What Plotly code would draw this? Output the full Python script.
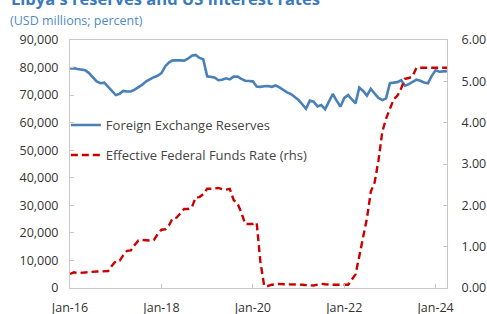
import pandas as pd
import plotly.graph_objects as go

# ---- data ----
months = pd.date_range("2016-01-01", periods=100, freq="MS")

fx_reserves = [
    79700, 79800, 79500, 79200, 79000, 78000, 76500, 75000, 74300, 74500, 73000, 71500,
    70000, 70500, 71500, 71300, 71300, 72000, 72800, 73800, 75000, 75800, 76500, 77000,
    78000, 80500, 81800, 82600, 82700, 82600, 82500, 83200, 84300, 84600, 83500, 83000,
    76800, 76600, 76400, 75400, 75600, 76100, 75700, 76700, 76700, 75900, 75200, 75100,
    75000, 73100, 73000, 73200, 73300, 73000, 73500, 72800, 71800, 71000, 70400, 69400,
    68200, 66600, 65000, 68000, 67600, 65900, 66400, 64900, 67600, 70400, 68000, 65800,
    69000, 70000, 68500, 67000, 72700, 71500, 69800, 72300, 70500, 69000, 68200, 68800,
    74300, 74600, 74700, 75400, 73400, 74000, 74800, 75600, 75200, 74600, 74300, 77000,
    79000, 78500, 78600, 78700,
]

fed_funds = [
    0.34, 0.38, 0.36, 0.37, 0.37, 0.38, 0.39, 0.40, 0.40, 0.40, 0.41, 0.54,
    0.65, 0.66, 0.79, 0.90, 0.91, 1.04, 1.15, 1.16, 1.15, 1.15, 1.16, 1.30,
    1.41, 1.42, 1.51, 1.69, 1.70, 1.82, 1.91, 1.91, 1.95, 2.19, 2.20, 2.27,
    2.40, 2.40, 2.41, 2.42, 2.39, 2.38, 2.40, 2.13, 2.04, 1.83, 1.55, 1.55,
    1.55, 1.58, 0.65, 0.05, 0.05, 0.08, 0.09, 0.10, 0.09, 0.09, 0.09, 0.09,
    0.09, 0.08, 0.07, 0.07, 0.06, 0.08, 0.10, 0.09, 0.08, 0.08, 0.08, 0.08,
    0.08, 0.08, 0.20, 0.33, 0.77, 1.21, 1.68, 2.33, 2.56, 3.08, 3.78, 4.10,
    4.33, 4.57, 4.65, 4.83, 5.06, 5.08, 5.12, 5.33, 5.33, 5.33, 5.33, 5.33,
    5.33, 5.33, 5.33, 5.33,
]

x_tick_vals = ["2016-01-01", "2018-01-01", "2020-01-01", "2022-01-01", "2024-01-01"]
x_tick_text = ["Jan-16", "Jan-18", "Jan-20", "Jan-22", "Jan-24"]
left_ticks = [0, 10000, 20000, 30000, 40000, 50000, 60000, 70000, 80000, 90000]
right_ticks = [0, 1, 2, 3, 4, 5, 6]

title_text = "<b>Libya's reserves and US interest rates</b>"
subtitle_text = "(USD millions; percent)"

BLUE = "#4a80b8"
RED = "#c80000"
AXIS = "#c8c8c8"
TXT = "#333333"
FONT = "Open Sans"

fig = go.Figure()
fig.add_trace(go.Scatter(
    x=months, y=fx_reserves, mode="lines", name="Foreign Exchange Reserves",
    line=dict(color=BLUE, width=2.6), legend="legend",
))
fig.add_trace(go.Scatter(
    x=months, y=fed_funds, mode="lines", name="Effective Federal Funds Rate (rhs)",
    line=dict(color=RED, width=2.4, dash="7px,4px"), yaxis="y2", legend="legend2",
))

fig.update_layout(
    width=487, height=314,
    margin=dict(l=70, r=40, t=40, b=26, autoexpand=False),
    paper_bgcolor="white", plot_bgcolor="white",
    font=dict(family=FONT, size=12.5, color=TXT),
    showlegend=True,
    legend=dict(x=-0.011, y=(288 - 125) / 248, xanchor="left", yanchor="middle",
                bgcolor="rgba(0,0,0,0)", font=dict(size=13, color="#444444")),
    legend2=dict(x=-0.011, y=(288 - 155) / 248, xanchor="left", yanchor="middle",
                 bgcolor="rgba(0,0,0,0)", font=dict(size=13, color="#444444")),
    xaxis=dict(
        type="date", range=["2016-01-01", "2024-04-01"],
        tickvals=x_tick_vals, ticktext=x_tick_text,
        showgrid=False, zeroline=False, automargin=False,
        showline=True, linecolor=AXIS, linewidth=1, mirror=True,
        ticks="inside", ticklen=4, tickcolor=AXIS,
        tickfont=dict(size=12.5, color=TXT), ticklabelstandoff=8,
    ),
    yaxis=dict(
        range=[0, 90000], tickvals=left_ticks, tickformat=",d",
        showgrid=False, zeroline=False, automargin=False,
        showline=True, linecolor=AXIS, linewidth=1, mirror=True,
        ticks="inside", ticklen=4, tickcolor=AXIS,
        tickfont=dict(size=12.5, color=TXT), ticklabelstandoff=8,
    ),
    yaxis2=dict(
        range=[0, 6], tickvals=right_ticks, tickformat=".2f",
        overlaying="y", side="right",
        showgrid=False, zeroline=False, automargin=False,
        showline=True, linecolor=AXIS, linewidth=1,
        ticks="inside", ticklen=4, tickcolor=AXIS,
        tickfont=dict(size=12.5, color=TXT), ticklabelstandoff=11,
    ),
    annotations=[
        dict(text=title_text, xref="paper", yref="paper", x=-70/376.5, y=1 + 41.5/248,
             xanchor="left", yanchor="middle", showarrow=False, xshift=9,
             font=dict(size=16.5, color="#3a7abb", family=FONT)),
        dict(text=subtitle_text, xref="paper", yref="paper", x=-70/376.5, y=1 + 20/248,
             xanchor="left", yanchor="middle", showarrow=False, xshift=8,
             font=dict(size=12.5, color="#4f8cc6", family=FONT)),
    ],
)

fig.write_html("out.html", config={"displayModeBar": False},
               post_script="document.body.style.margin='0';")
